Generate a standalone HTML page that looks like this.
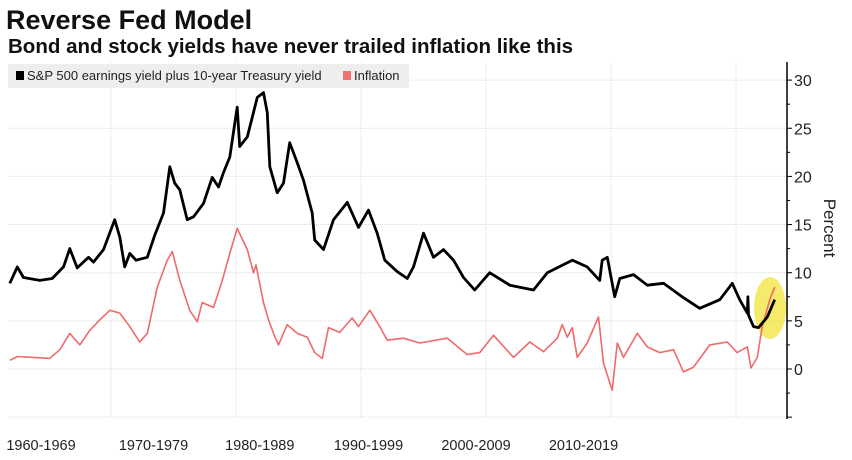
<!DOCTYPE html>
<html><head><meta charset="utf-8">
<style>
body{margin:0;background:#fff;width:852px;height:455px;overflow:hidden;font-family:"Liberation Sans",sans-serif}
</style></head>
<body>
<svg width="852" height="455" xmlns="http://www.w3.org/2000/svg">
<text x="6" y="29" font-size="27" font-weight="bold" fill="#111">Reverse Fed Model</text>
<text x="8" y="53" font-size="20.5" font-weight="bold" fill="#111">Bond and stock yields have never trailed inflation like this</text>
<g id="grid"></g>
<g>
<rect x="8" y="64" width="401" height="24" fill="#eeeeee"/>
<rect x="16" y="71" width="8" height="9" fill="#000"/>
<text x="27" y="80" font-size="13" fill="#222">S&amp;P 500 earnings yield plus 10-year Treasury yield</text>
<rect x="343" y="71" width="8" height="9" fill="#f07070"/>
<text x="354" y="80" font-size="13" fill="#222">Inflation</text>
</g>
<ellipse cx="770" cy="308" rx="16" ry="31" fill="#f3e33a" opacity="0.75"/>
<g id="series"></g>
<g id="axis"></g>
<text transform="translate(824,228) rotate(90)" font-size="17" fill="#222" text-anchor="middle">Percent</text>
<g id="xlabels"></g>
</svg>
<script>
const yieldYears=[1961.9,1962.5,1963,1964.3,1965.3,1966.2,1966.7,1967.3,1968.2,1968.6,1969.4,1970.3,1970.7,1971.1,1971.5,1972,1972.9,1973.5,1974.2,1974.7,1975.1,1975.5,1976.1,1976.6,1977.4,1978.1,1978.6,1979,1979.5,1980.1,1980.3,1980.9,1981.7,1982.2,1982.5,1982.7,1983.3,1983.8,1984.3,1984.9,1985.4,1986.1,1986.3,1987,1987.8,1988.9,1989.8,1990.6,1991.3,1991.9,1992.9,1993.7,1994.2,1995,1995.8,1996.6,1997.4,1998.2,1999.1,2000.3,2001.9,2003.8,2004.9,2006.9,2008.1,2009.1,2009.3,2009.7,2010.3,2010.7,2011.8,2012.9,2014.2,2015.8,2017.1,2018.7,2019.7,2020.3,2020.9,2020.95,2021.0,2021.4,2021.8,2022.5,2023.1];
const yieldValues=[8.9,10.6,9.5,9.2,9.4,10.6,12.5,10.5,11.6,11.1,12.4,15.5,13.7,10.6,12.0,11.3,11.6,13.9,16.2,21.0,19.3,18.6,15.5,15.8,17.2,19.9,18.9,20.4,22.0,27.2,23.1,24.1,28.2,28.7,26.6,21.0,18.3,19.3,23.5,21.4,19.6,16.2,13.4,12.4,15.5,17.3,14.7,16.5,14.1,11.3,10.1,9.4,10.6,14.1,11.6,12.4,11.3,9.5,8.2,10.0,8.7,8.2,10.0,11.3,10.6,9.2,11.3,11.6,7.5,9.4,9.8,8.7,8.9,7.4,6.3,7.2,8.9,7.2,5.8,7.5,5.6,4.4,4.3,5.4,7.2];
const inflYears=[1961.9,1962.5,1963.8,1965.1,1965.9,1966.7,1967.5,1968.3,1969.1,1969.9,1970.7,1971.5,1972.3,1972.9,1973.7,1974.5,1974.9,1975.5,1976.3,1976.9,1977.3,1978.2,1978.9,1979.5,1980.1,1980.9,1981.4,1981.6,1982.2,1982.6,1983,1983.4,1984.1,1984.9,1985.7,1986.3,1986.9,1987.4,1988.3,1989.3,1989.8,1990.7,1991.5,1992.1,1993.4,1994.7,1996.9,1998.5,1999.5,2000.6,2002.2,2003.5,2004.6,2005.7,2006.1,2006.5,2006.9,2007.3,2008.1,2009,2009.4,2010.1,2010.5,2011,2012.1,2012.9,2013.9,2015,2015.8,2016.6,2017.9,2019.3,2020.1,2020.9,2021.2,2021.7,2022.1,2022.7,2023.1];
const inflValues=[0.9,1.3,1.2,1.1,2.0,3.7,2.5,4.0,5.1,6.1,5.8,4.4,2.8,3.7,8.5,11.3,12.2,9.2,6.1,4.9,6.9,6.4,9.2,12.0,14.6,12.4,10.0,10.8,6.9,5.1,3.7,2.5,4.6,3.7,3.3,1.7,1.1,4.3,3.8,5.3,4.4,6.1,4.4,3.0,3.2,2.7,3.2,1.5,1.7,3.5,1.2,2.8,1.8,3.2,4.6,3.3,4.3,1.2,2.7,5.4,0.6,-2.2,2.7,1.2,3.7,2.3,1.7,2.0,-0.3,0.2,2.5,2.8,1.7,2.3,0.1,1.2,4.4,7.2,8.5];
const yTicks=[30,25,20,15,10,5,0,-5];
const gridYears=[1970,1980,1990,2000,2010,2020];
const xLabelText=["1960-1969","1970-1979","1980-1989","1990-1999","2000-2009","2010-2019"];
const xLabelYears=[1964.4,1973.4,1981.9,1990.6,1999.2,2007.8];

const NS="http://www.w3.org/2000/svg";
const xs=yr=>236+(yr-1980)*12.5;
const ys=v=>369-v*9.63;
const PL=8,PR=787,PT=62,PB=418;
function mk(tag,attrs,parent){const e=document.createElementNS(NS,tag);for(const k in attrs)e.setAttribute(k,attrs[k]);parent.appendChild(e);return e;}
const grid=document.getElementById('grid');
yTicks.forEach(t=>{
  const l=mk('line',{x1:PL,x2:PR,y1:ys(t),y2:ys(t),stroke:'#dcdcdc','stroke-width':1,'stroke-dasharray':'1,1'},grid);
  
  
});
gridYears.forEach(g=>{
  const l=mk('line',{x1:xs(g),x2:xs(g),y1:PT,y2:PB,stroke:'#dcdcdc','stroke-width':1,'stroke-dasharray':'1,1'},grid);
  
  
});
const series=document.getElementById('series');
function pathOf(X,V){return X.map((x,i)=>(i?'L':'M')+xs(x).toFixed(1)+','+ys(V[i]).toFixed(1)).join('');}
const inf=mk('path',{d:pathOf(inflYears,inflValues),fill:'none',stroke:'#ef6a6a','stroke-width':1.6,'stroke-linejoin':'round'},series);


const yl=mk('path',{d:pathOf(yieldYears,yieldValues),fill:'none',stroke:'#000','stroke-width':2.8,'stroke-linejoin':'round'},series);


const axis=document.getElementById('axis');
const al=mk('line',{x1:PR,x2:PR,y1:PT,y2:PB+1,stroke:'#000','stroke-width':1.5},axis);


yTicks.forEach(t=>{
  const tk=mk('line',{x1:PR,x2:PR+5,y1:ys(t),y2:ys(t),stroke:'#000','stroke-width':1},axis);
  
  
  if(t>-5){
    const m=mk('line',{x1:PR,x2:PR+3,y1:ys(t-2.5),y2:ys(t-2.5),stroke:'#000','stroke-width':1},axis);
    
    
    const tx=mk('text',{x:PR+7,y:ys(t)+6,'font-size':16,fill:'#222'},axis);
    tx.textContent=t;
    
    
  }
});
const xl=document.getElementById('xlabels');
xLabelText.forEach((s,i)=>{
  const tx=mk('text',{x:xs(xLabelYears[i]),y:450,'font-size':14.5,fill:'#222','text-anchor':'middle'},xl);
  tx.textContent=s;
  
  
});
</script>
</body></html>
